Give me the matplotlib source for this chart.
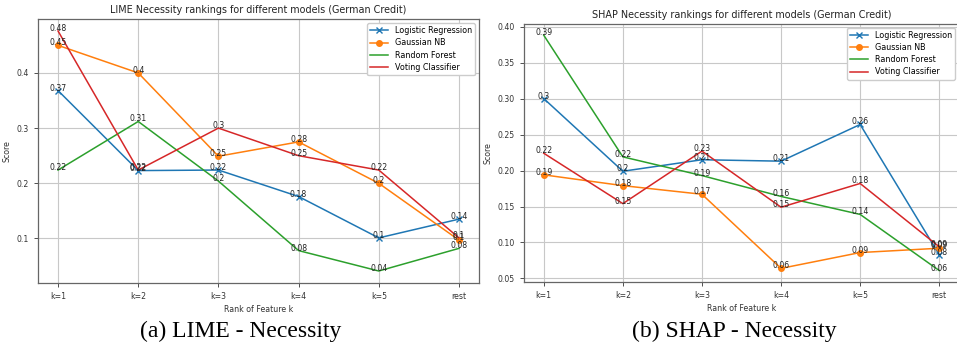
import matplotlib
matplotlib.use("Agg")
import matplotlib.pyplot as plt

ranks = ["k=1", "k=2", "k=3", "k=4", "k=5", "rest"]
models = ["Logistic Regression", "Gaussian NB", "Random Forest", "Voting Classifier"]
markers = ["x", "o", None, None]

# LIME necessity scores per rank
lime_lr = [0.368, 0.223, 0.224, 0.176, 0.101, 0.135]
lime_gnb = [0.450, 0.400, 0.249, 0.275, 0.200, 0.097]
lime_rf = [0.224, 0.312, 0.204, 0.078, 0.041, 0.082]
lime_vc = [0.476, 0.224, 0.300, 0.250, 0.224, 0.101]

# SHAP necessity scores per rank
shap_lr = [0.300, 0.199, 0.215, 0.213, 0.264, 0.083]
shap_gnb = [0.194, 0.179, 0.167, 0.064, 0.086, 0.092]
shap_rf = [0.388, 0.219, 0.193, 0.164, 0.139, 0.061]
shap_vc = [0.224, 0.154, 0.227, 0.149, 0.182, 0.094]

W, H = 957, 352


def draw(ax, series, title):
    x = list(range(len(ranks)))
    for name, vals, m in zip(models, series, markers):
        ax.plot(x, vals, marker=m, markersize=4, linewidth=1.1, label=name)
        for xi, v in zip(x, vals):
            ax.annotate(str(round(v, 2)), (xi, v), ha="center", fontsize=5.6,
                        color="#222222")
    ax.set_xticks(x)
    ax.set_xticklabels(ranks)
    ax.tick_params(labelsize=5.6, length=3, width=0.6, colors="#333333")
    ax.set_xlabel("Rank of Feature k", fontsize=5.7, color="#333333", labelpad=3)
    ax.set_ylabel("Score", fontsize=5.7, color="#333333")
    ax.set_title(title, fontsize=6.9, color="#222222", pad=4)
    ax.grid(True, color="#c8c8c8", linewidth=0.8)
    for s in ax.spines.values():
        s.set_color("#666666")
        s.set_linewidth(0.9)
    ax.legend(loc="upper right", fontsize=5.8, framealpha=1, edgecolor="#cccccc",
              handlelength=2.2, borderpad=0.4, labelspacing=0.4)


fig = plt.figure(figsize=(W / 100, H / 100), dpi=100)

ax1 = fig.add_axes([38 / W, (H - 283) / H, 441 / W, 264 / H])
draw(ax1, [lime_lr, lime_gnb, lime_rf, lime_vc],
     "LIME Necessity rankings for different models (German Credit)")

ax2 = fig.add_axes([524 / W, (H - 282.3) / H, 435 / W, 258.8 / H])
draw(ax2, [shap_lr, shap_gnb, shap_rf, shap_vc],
     "SHAP Necessity rankings for different models (German Credit)")

fig.text(241 / W, 1 - 331 / H, "(a) LIME - Necessity", ha="center", va="center",
         family="Liberation Serif", fontsize=17)
fig.text(734 / W, 1 - 331 / H, "(b) SHAP - Necessity", ha="center", va="center",
         family="Liberation Serif", fontsize=17)

fig.savefig("out.png", dpi=100)
